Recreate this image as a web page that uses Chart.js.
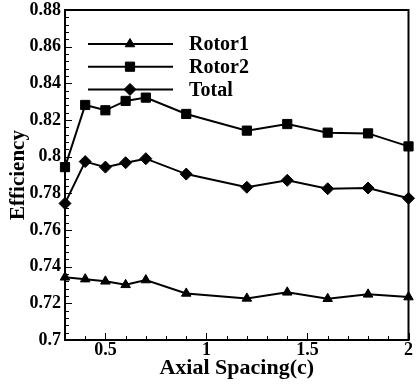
<!DOCTYPE html>
<html>
<head>
<meta charset="utf-8">
<script src="https://cdn.jsdelivr.net/npm/chart.js@4/dist/chart.umd.min.js"></script>
<style>
  html, body { margin: 0; padding: 0; background: #fff; }
  #c { display: block; }
</style>
</head>
<body>
<canvas id="c" width="416" height="385"></canvas>
<script>
// axial spacing (in chords) where each case was run
const spacing = [0.3, 0.4, 0.5, 0.6, 0.7, 0.9, 1.2, 1.4, 1.6, 1.8, 2.0];
const rotor1 = [0.7342, 0.7332, 0.7320, 0.7301, 0.7327, 0.7254, 0.7227, 0.7260, 0.7225, 0.7249, 0.7234];
const rotor2 = [0.7943, 0.8282, 0.8253, 0.8304, 0.8322, 0.8233, 0.8142, 0.8178, 0.8131, 0.8127, 0.8056];
const total  = [0.7745, 0.7973, 0.7943, 0.7967, 0.7989, 0.7905, 0.7833, 0.7871, 0.7825, 0.7829, 0.7773];

const seriesNames = ['Rotor1', 'Rotor2', 'Total'];
const xTickValues = [0.5, 1, 1.5, 2];
const xTickLabels = ['0.5', '1', '1.5', '2'];
const yTickValues = [0.7, 0.72, 0.74, 0.76, 0.78, 0.8, 0.82, 0.84, 0.86, 0.88];
const yTickLabels = ['0.7', '0.72', '0.74', '0.76', '0.78', '0.8', '0.82', '0.84', '0.86', '0.88'];

(function () {
    const SERIF = '"Liberation Serif", "Times New Roman", serif';
    Chart.defaults.font.family = SERIF;
    Chart.defaults.font.weight = 'bold';
    Chart.defaults.color = '#000';

    // marker radius per point style (squares look larger in the original)
    const markerSize = {triangle: 5.5, rect: 6.5, rectRot: 6};

    function series(label, values, style) {
        return {
            label: label,
            data: spacing.map((x, i) => ({x: x, y: values[i]})),
            borderColor: '#000',
            backgroundColor: '#000',
            borderWidth: 2,
            pointStyle: style,
            pointRadius: markerSize[style],
            pointBorderWidth: 1,
            pointBackgroundColor: '#000',
            pointBorderColor: '#000',
            tension: 0,
            clip: false,
        };
    }

    // frame + inward major/minor ticks like the original plot
    const framePlugin = {
        id: 'frame',
        beforeDatasetsDraw(chart) {
            const {ctx, chartArea: a} = chart;
            const xs = chart.scales.x, ys = chart.scales.y;
            ctx.save();
            ctx.strokeStyle = '#000';
            ctx.lineWidth = 1;
            ctx.beginPath();
            for (let i = 3; i <= 20; i++) {
                const v = i / 10;
                const px = Math.round(xs.getPixelForValue(v)) + 0.5;
                const major = xTickValues.some(t => Math.abs(t - v) < 1e-9);
                ctx.moveTo(px, a.bottom);
                ctx.lineTo(px, a.bottom - (major ? 7 : 4));
            }
            for (let i = 0; i <= 45; i++) {
                const v = 0.7 + i * 0.004;
                const py = Math.round(ys.getPixelForValue(v)) + 0.5;
                const major = i % 5 === 0;
                ctx.moveTo(a.left, py);
                ctx.lineTo(a.left + (major ? 7 : 4), py);
            }
            ctx.stroke();
            ctx.lineWidth = 2;
            ctx.strokeRect(a.left, a.top, a.right - a.left, a.bottom - a.top);
            ctx.restore();
        }
    };

    // legend with line + marker, drawn inside the plot
    const legendPlugin = {
        id: 'lineLegend',
        afterDatasetsDraw(chart) {
            const ctx = chart.ctx;
            ctx.save();
            chart.data.datasets.forEach(function (ds, i) {
                const y = 44 + i * 22.7;
                ctx.strokeStyle = '#000';
                ctx.lineWidth = 2;
                ctx.beginPath();
                ctx.moveTo(88, y);
                ctx.lineTo(173, y);
                ctx.stroke();
                ctx.fillStyle = '#000';
                ctx.lineWidth = 1;
                Chart.helpers.drawPoint(ctx, {pointStyle: ds.pointStyle, radius: ds.pointRadius, borderWidth: 1, rotation: 0}, 130, y);
                ctx.font = 'bold 20px ' + SERIF;
                ctx.textAlign = 'left';
                ctx.textBaseline = 'middle';
                ctx.fillText(ds.label, 189, y + 1);
            });
            ctx.restore();
        }
    };

    new Chart(document.getElementById('c'), {
        type: 'line',
        data: {
            datasets: [
                series(seriesNames[0], rotor1, 'triangle'),
                series(seriesNames[1], rotor2, 'rect'),
                series(seriesNames[2], total, 'rectRot'),
            ],
        },
        options: {
            responsive: false,
            animation: false,
            layout: {padding: {left: 0, right: 5, top: 10, bottom: 0}},
            plugins: {legend: {display: false}, tooltip: {enabled: false}},
            scales: {
                x: {
                    type: 'linear',
                    min: 0.3,
                    max: 2,
                    grid: {display: false, drawTicks: false},
                    border: {display: false},
                    afterBuildTicks: s => { s.ticks = xTickValues.map(v => ({value: v})); },
                    ticks: {
                        font: {size: 18},
                        padding: 0,
                        maxRotation: 0,
                        callback: (v) => xTickLabels[xTickValues.indexOf(v)],
                    },
                    title: {
                        display: true,
                        text: 'Axial Spacing(c)',
                        font: {size: 22},
                        padding: {top: 0, bottom: 3},
                    },
                    afterFit: s => { s.height = 45; s.paddingLeft = 0; s.paddingRight = 0; },
                },
                y: {
                    min: 0.7,
                    max: 0.88,
                    grid: {display: false, drawTicks: false},
                    border: {display: false},
                    afterBuildTicks: s => { s.ticks = yTickValues.map(v => ({value: v})); },
                    ticks: {
                        font: {size: 18},
                        padding: 4,
                        callback: (v) => yTickLabels[yTickValues.findIndex(t => Math.abs(t - v) < 1e-9)],
                    },
                    title: {
                        display: true,
                        text: 'Efficiency',
                        font: {size: 21},
                        padding: {top: 6, bottom: 0},
                    },
                    afterFit: s => { s.width = 65; s.paddingTop = 0; s.paddingBottom = 0; },
                },
            },
        },
        plugins: [framePlugin, legendPlugin],
    });
})();
</script>
</body>
</html>
